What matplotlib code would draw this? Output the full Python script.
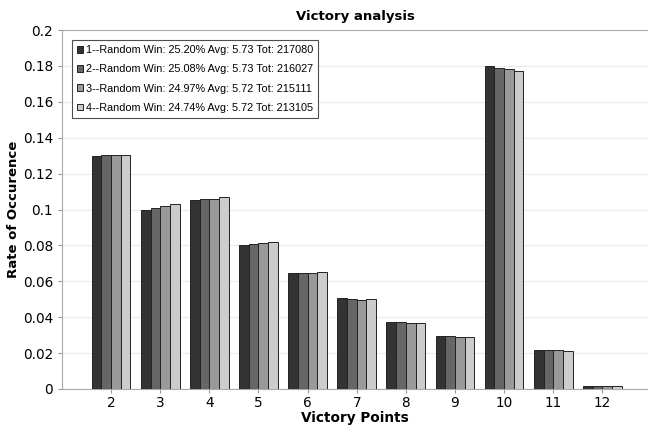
import matplotlib

matplotlib.use("Agg")
import matplotlib.pyplot as plt  # noqa: E402
import numpy as np  # noqa: E402

points = ["2", "3", "4", "5", "6", "7", "8", "9", "10", "11", "12"]
series_labels = [
    "1--Random Win: 25.20% Avg: 5.73 Tot: 217080",
    "2--Random Win: 25.08% Avg: 5.73 Tot: 216027",
    "3--Random Win: 24.97% Avg: 5.72 Tot: 215111",
    "4--Random Win: 24.74% Avg: 5.72 Tot: 213105",
]
run1 = [0.1300, 0.0997, 0.1055, 0.0802, 0.0648, 0.0505, 0.0373, 0.0295, 0.1799, 0.0216, 0.0018]
run2 = [0.1305, 0.1008, 0.1058, 0.0806, 0.0648, 0.0500, 0.0373, 0.0295, 0.1790, 0.0216, 0.0018]
run3 = [0.1305, 0.1017, 0.1058, 0.0815, 0.0648, 0.0496, 0.0369, 0.0290, 0.1781, 0.0216, 0.0018]
run4 = [0.1305, 0.1029, 0.1071, 0.0818, 0.0652, 0.0500, 0.0369, 0.0288, 0.1770, 0.0210, 0.0018]
colors = ["#333333", "#666666", "#999999", "#cccccc"]

fig = plt.figure(figsize=(6.48, 4.30), dpi=100)
ax = fig.add_axes([62 / 648, 1 - 389 / 430, 586 / 648, 359 / 430])

x = np.arange(len(points))
width = 0.197
for i, (vals, col, lab) in enumerate(zip([run1, run2, run3, run4], colors, series_labels)):
    ax.bar(x + (i - 1.5) * width, vals, width, color=col, edgecolor="#222222",
           linewidth=0.7, label=lab, zorder=3)

ax.set_xlim(-1.0, 10.93)
ax.set_ylim(0, 0.2)
ax.set_yticks(np.arange(0, 0.201, 0.02))
ax.set_yticklabels(["0", "0.02", "0.04", "0.06", "0.08", "0.1", "0.12",
                    "0.14", "0.16", "0.18", "0.2"])
ax.set_xticks(x)
ax.set_xticklabels(points)
ax.tick_params(axis="both", labelsize=9.8, length=3, color="#999999", width=0.8)
ax.tick_params(axis="x", pad=2)
ax.grid(axis="y", color="#ececec", linewidth=0.9, zorder=0)

for side in ["left", "bottom", "top"]:
    ax.spines[side].set_color("#aaaaaa")
ax.spines["right"].set_visible(False)

ax.set_title("Victory analysis", fontsize=9.5, fontweight="bold", pad=7)
ax.set_xlabel("Victory Points", fontsize=9.8, fontweight="bold", labelpad=1)
ax.set_ylabel("Rate of Occurence", fontsize=9.5, fontweight="bold", labelpad=2)

leg = ax.legend(loc="upper left", bbox_to_anchor=(0.017, 0.972),
                prop={"family": "Liberation Sans", "size": 7.8},
                frameon=True, fancybox=False, handlelength=0.6, handleheight=0.6,
                handletextpad=0.2, borderpad=0.45, labelspacing=0.86, borderaxespad=0)
leg.get_frame().set_edgecolor("#222222")
leg.get_frame().set_linewidth(0.8)

fig.savefig("out.png", dpi=100)
